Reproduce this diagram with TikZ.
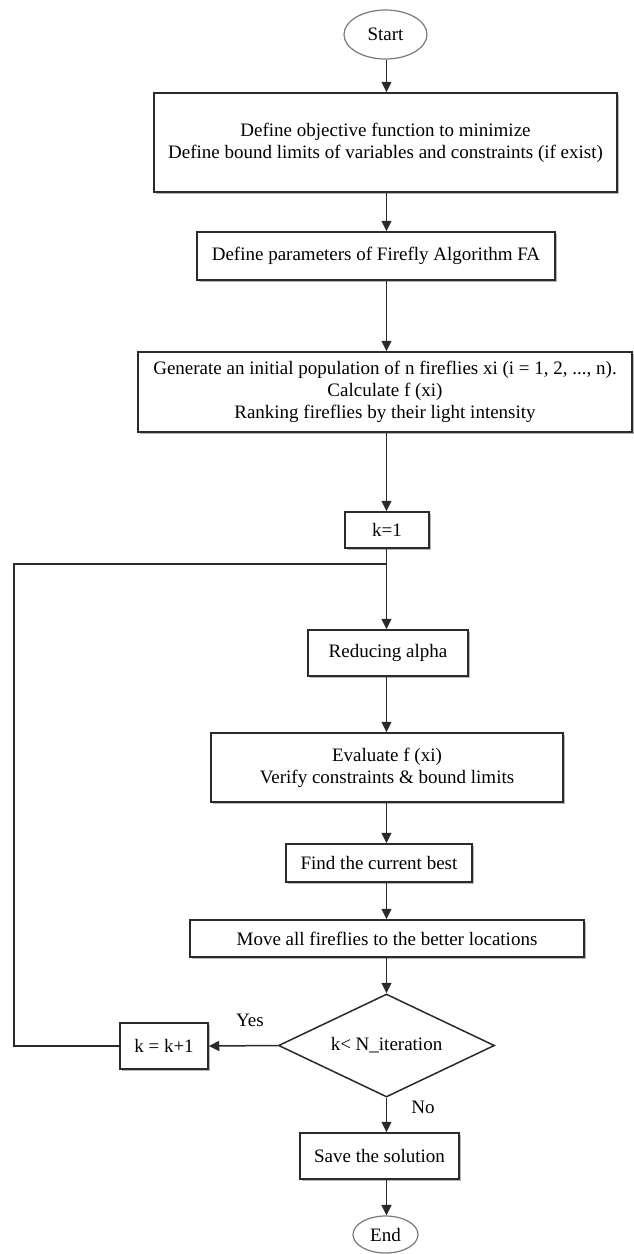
\documentclass[tikz,border=0pt]{standalone}
\usepackage{fontspec}
\setmainfont{Liberation Serif}
\usetikzlibrary{shapes.geometric,shadows,arrows.meta,calc}
\definecolor{ln}{HTML}{2A2A2A}
\definecolor{ov}{HTML}{7A7A7A}
\begin{document}
\begin{tikzpicture}[x=1pt,y=-1pt,
  font=\fontsize{19}{22}\selectfont,
  box/.style={draw=ln,line width=1.5pt,fill=white,rectangle,align=center,inner sep=0pt,
    drop shadow={shadow xshift=1.8pt,shadow yshift=-1.8pt,opacity=0.28,fill=black}},
  term/.style={draw=ov,line width=1.2pt,ellipse,fill=white,inner sep=0pt},
  dec/.style={draw=ln,line width=1.5pt,diamond,fill=white,inner sep=0pt,aspect=2.1},
  arr/.style={draw=ln,line width=1.5pt,-{Triangle[length=10.5pt,width=10pt]}},
  ln/.style={draw=ln,line width=1.5pt}]
\useasboundingbox (0,0) rectangle (634,1254);
\fill[white] (0,0) rectangle (634,1254);
\coordinate (axis) at (386.5,0);
\node[term,minimum width=83,minimum height=49] (start) at (385.5,34.5) {Start};
\node[box,minimum width=463,minimum height=99] (b1) at (385.5,142.5)
  {Define objective function to minimize\\Define bound limits of variables and constraints (if exist)};
\node[box,minimum width=358,minimum height=48] (b2) at (376,256) {Define parameters of Firefly Algorithm FA};
\node[box,minimum width=494,minimum height=80] (b3) at (385,392)
  {Generate an initial population of n fireflies xi (i = 1, 2, ..., n).\\Calculate f (xi)\\Ranking fireflies by their light intensity};
\node[box,minimum width=84,minimum height=36] (k1) at (387,530) {k=1};
\node[box,minimum width=160,minimum height=46] (ra) at (388,653) {Reducing alpha};
\node[box,minimum width=352,minimum height=69] (ev) at (387,767.5)
  {Evaluate f (xi)\\Verify constraints \& bound limits};
\node[box,minimum width=186,minimum height=38] (fb) at (379,863) {Find the current best};
\node[box,minimum width=394,minimum height=37] (mv) at (387,938.5) {Move all fireflies to the better locations};
\node[dec,minimum width=216,minimum height=103] (dc) at (386.5,1045.5) {k< N\_iteration};
\node[box,minimum width=88,minimum height=46] (kk) at (164,1046) {k = k+1};
\node[box,minimum width=159,minimum height=46] (sv) at (379.5,1156) {Save the solution};
\node[term,minimum width=65,minimum height=37] (end) at (385.5,1234.5) {End};
\node (yes) at (250,1020) {Yes};
\node (no) at (423,1107) {No};
\coordinate (loopa) at (14,1046);
\coordinate (loopb) at (14,564);
\coordinate (junc) at (386.5,564);
\draw[arr] (start.south -| axis) -- (b1.north -| axis);
\draw[arr] (b1.south -| axis) -- (b2.north -| axis);
\draw[arr] (b2.south -| axis) -- (b3.north -| axis);
\draw[arr] (b3.south -| axis) -- (k1.north -| axis);
\draw[arr] (k1.south -| axis) -- (ra.north -| axis);
\draw[arr] (ra.south -| axis) -- (ev.north -| axis);
\draw[arr] (ev.south -| axis) -- (fb.north -| axis);
\draw[arr] (fb.south -| axis) -- (mv.north -| axis);
\draw[arr] (mv.south -| axis) -- (dc.north);
\draw[arr] (dc.west) -- (kk.east);
\draw[arr] (dc.south) -- (sv.north -| dc.south);
\draw[arr] (sv.south -| axis) -- (end.north -| axis);
\draw[ln] (kk.west) -- (loopa) -- (loopb) -- (junc);
\end{tikzpicture}
\end{document}
